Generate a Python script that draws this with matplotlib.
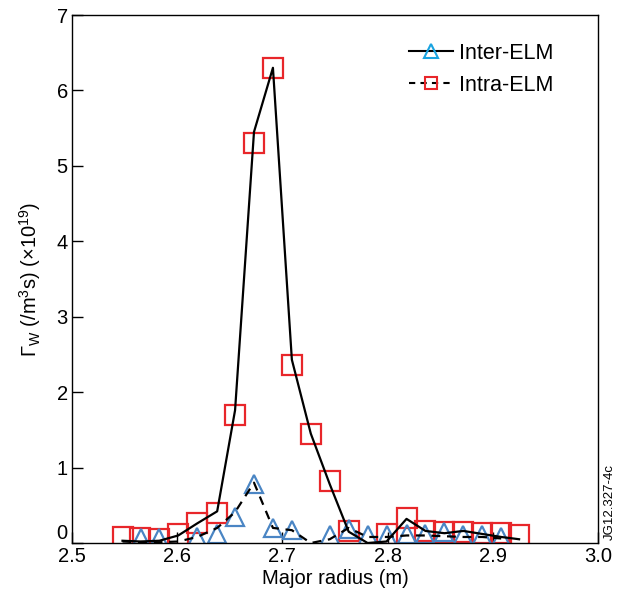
import matplotlib
matplotlib.use('Agg')
import matplotlib.pyplot as plt
from matplotlib.lines import Line2D

plt.rcParams['font.family'] = ['Liberation Sans', 'DejaVu Sans']
plt.rcParams['mathtext.fontset'] = 'custom'
plt.rcParams['mathtext.rm'] = 'Liberation Sans'
plt.rcParams['mathtext.it'] = 'Liberation Sans:italic'

# squares (red) and the solid line
sq_x = [2.548, 2.565, 2.583, 2.601, 2.619, 2.638, 2.655, 2.673, 2.691, 2.709,
        2.727, 2.745, 2.763, 2.799, 2.818, 2.836, 2.854, 2.872, 2.890, 2.908, 2.925]
sq_y = [0.08, 0.07, 0.05, 0.12, 0.27, 0.40, 1.70, 5.30, 6.30, 2.36,
        1.45, 0.82, 0.16, 0.12, 0.33, 0.16, 0.15, 0.15, 0.13, 0.13, 0.10]

solid_x = [2.548, 2.565, 2.583, 2.601, 2.619, 2.638, 2.655, 2.673, 2.691, 2.709,
           2.727, 2.745, 2.763, 2.781, 2.799, 2.818, 2.836, 2.854, 2.872, 2.890, 2.908, 2.925]
solid_y = [0.03, 0.02, 0.03, 0.10, 0.26, 0.42, 1.76, 5.45, 6.30, 2.43,
           1.45, 0.78, 0.15, 0.00, 0.02, 0.32, 0.16, 0.13, 0.16, 0.12, 0.08, 0.05]

# triangles (blue) and the dashed line
tri_x = [2.566, 2.583, 2.619, 2.638, 2.655, 2.673, 2.691, 2.709, 2.745, 2.763,
         2.781, 2.799, 2.818, 2.836, 2.854, 2.872, 2.890, 2.908]
tri_y = [0.06, 0.07, 0.08, 0.12, 0.35, 0.78, 0.20, 0.17, 0.10, 0.18,
         0.10, 0.10, 0.12, 0.12, 0.14, 0.10, 0.10, 0.08]

dash_x = [2.548, 2.565, 2.583, 2.601, 2.619, 2.638, 2.655, 2.673, 2.691, 2.709,
          2.727, 2.745, 2.763, 2.781, 2.799, 2.818, 2.836, 2.854, 2.872, 2.890, 2.908]
dash_y = [0.02, 0.01, 0.01, 0.02, 0.08, 0.20, 0.41, 0.80, 0.20, 0.17,
          0.00, 0.05, 0.20, 0.08, 0.08, 0.10, 0.10, 0.09, 0.08, 0.08, 0.06]

x_ticks = [2.5, 2.6, 2.7, 2.8, 2.9, 3.0]
x_labels = ['2.5', '2.6', '2.7', '2.8', '2.9', '3.0']
y_ticks = [0, 1, 2, 3, 4, 5, 6, 7]

red = '#e8262a'
blue = '#4a85c4'
fs = 14.5

fig = plt.figure(figsize=(6.24, 5.93), dpi=100)
ax = fig.add_axes([0.1154, 0.0843, 0.8429, 0.8904])

ax.plot(sq_x, sq_y, 's', ms=13.7, mfc='none', mec=red, mew=1.6, zorder=2)
ax.plot(tri_x, tri_y, '^', ms=13.5, mfc='none', mec=blue, mew=1.6, zorder=2)
ax.plot(solid_x, solid_y, '-', color='k', lw=1.6, zorder=3)
ax.plot(dash_x, dash_y, '--', color='k', lw=1.6, dashes=(4, 3), zorder=3)

ax.set_xlim(2.5, 3.0)
ax.set_ylim(0, 7)
ax.set_xticks(x_ticks)
ax.set_xticklabels(x_labels)
ax.set_yticks(y_ticks)
ax.set_yticklabels([str(v) for v in y_ticks])
ax.get_yticklabels()[0].set_verticalalignment('bottom')
ax.tick_params(direction='in', length=8, width=1, labelsize=fs,
               top=False, right=False, pad=3)
for s in ax.spines.values():
    s.set_linewidth(1)

ax.set_xlabel('Major radius (m)', fontsize=fs, labelpad=2)
ax.set_ylabel(r'$\Gamma_{\rm W}$ (/m$^3$s) ($\times$10$^{19}$)', fontsize=fs, labelpad=10)

handles = [
    Line2D([], [], color='k', lw=1.5, marker='^', ms=9.5, mfc='none', mec='#19a3e0', mew=1.5),
    Line2D([], [], color='k', lw=1.5, ls='--', dashes=(3, 2.5), marker='s', ms=8.5,
           mfc='none', mec=red, mew=1.5),
]
ax.legend(handles, ['Inter-ELM', 'Intra-ELM'], loc='upper left', frameon=False,
          fontsize=15.5, handlelength=2.05, handletextpad=0.25, labelspacing=0.5,
          borderpad=0, borderaxespad=0, bbox_to_anchor=(0.641, 0.947))

fig.text(0.9775, 0.153, 'JG12.327-4c', rotation=90, fontsize=9.5, ha='center', va='center')

fig.savefig('out.png', dpi=100)
